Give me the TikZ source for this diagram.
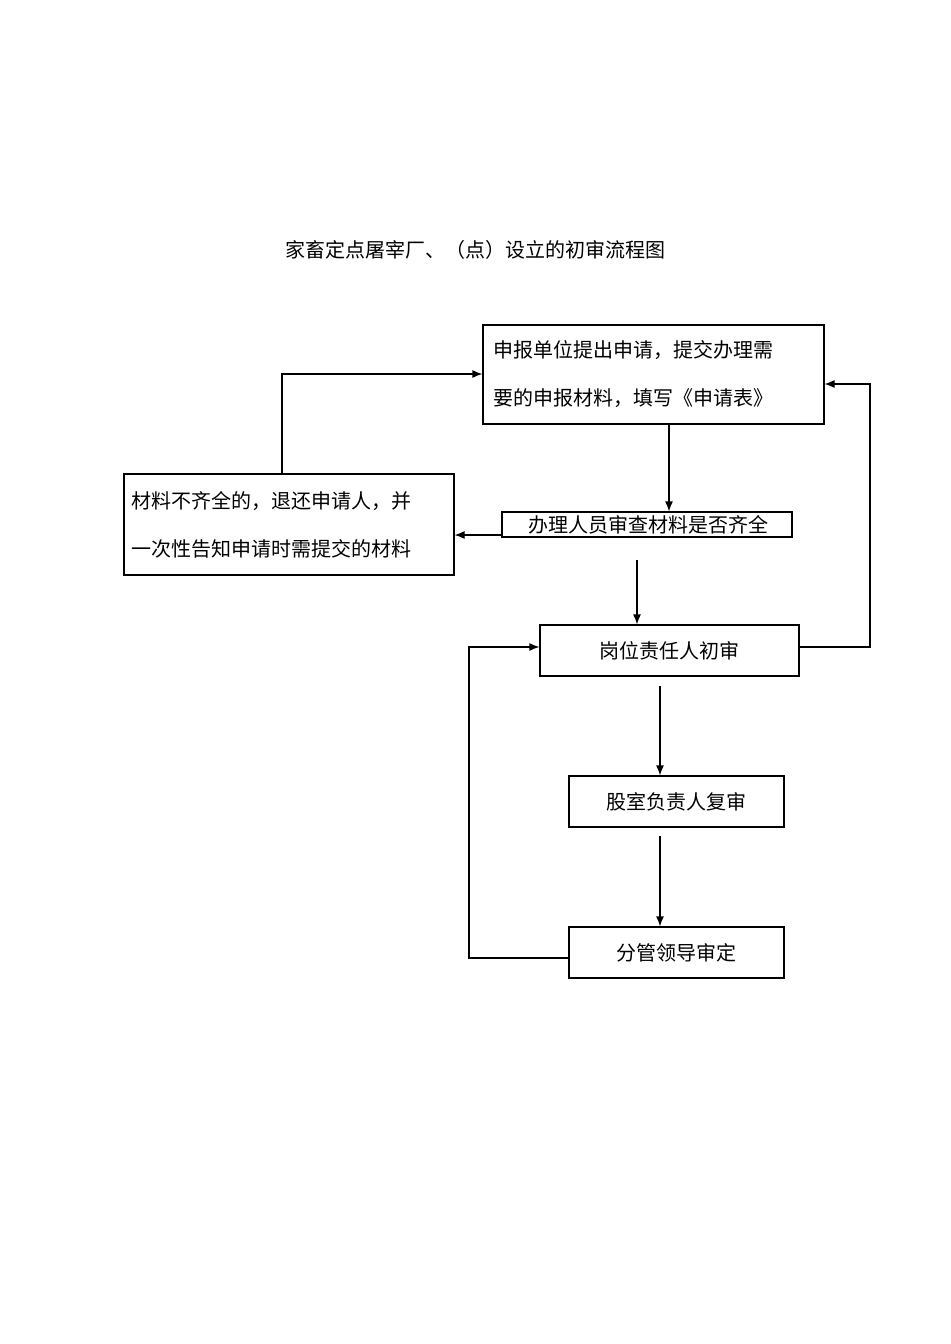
\documentclass[tikz,border=0pt]{standalone}
\usepackage{fontspec}
\setmainfont{Noto Sans CJK SC}
\usetikzlibrary{arrows.meta}
\tikzset{
  box/.style={draw,thick=false,line width=0.6pt,inner sep=0pt,font=\fontsize{10pt}{24pt}\selectfont},
  flow/.style={line width=0.6pt,-{Latex[length=5pt,width=4pt]}}
}
\begin{document}
\begin{tikzpicture}[x=0.5pt,y=-0.5pt]
\useasboundingbox (0,0) rectangle (950,1344);
% title
\node[font=\fontsize{10pt}{12pt}\selectfont] (title) at (475,250) {家畜定点屠宰厂、（点）设立的初审流程图};
% boxes
\node[box,minimum width=170.5pt,minimum height=49.5pt,text width=160pt,align=left] (apply) at (653.5,374.5) {申报单位提出申请，提交办理需\\要的申报材料，填写《申请表》};
\node[box,minimum width=165pt,minimum height=50.5pt,text width=158pt,align=left] (back) at (289,524.5) {材料不齐全的，退还申请人，并\\一次性告知申请时需提交的材料};
\node[box,minimum width=145pt,minimum height=12.5pt,font=\fontsize{10pt}{10pt}\selectfont] (check) at (647,524.5) {\,办理人员审查材料是否齐全};
\node[box,minimum width=129.5pt,minimum height=25.5pt] (first) at (669.5,650.5) {岗位责任人初审};
\node[box,minimum width=107.5pt,minimum height=25.5pt] (second) at (676.5,801.5) {股室负责人复审};
\node[box,minimum width=107.5pt,minimum height=25.5pt] (final) at (676.5,952.5) {分管领导审定};
% free ends
\coordinate (s1) at (637,560);
\coordinate (s2) at (660,686);
\coordinate (s3) at (660,836);
% connectors
\draw[flow] (apply.south -| 669,0) -- (check.north -| 669,0);
\draw[flow] (check.west |- 0,535) -- (back.east |- 0,535);
\draw[flow] (back.north -| 282,0) -- (282,374) -- (apply.west |- 0,374);
\draw[flow] (s1) -- (first.north -| s1);
\draw[flow] (first.east |- 0,647) -- (870,647) -- (870,384) -- (apply.east |- 0,384);
\draw[flow] (s2) -- (second.north -| s2);
\draw[flow] (s3) -- (final.north -| s3);
\draw[flow] (final.west |- 0,958) -- (469,958) -- (469,647) -- (first.west |- 0,647);
\end{tikzpicture}
\end{document}
